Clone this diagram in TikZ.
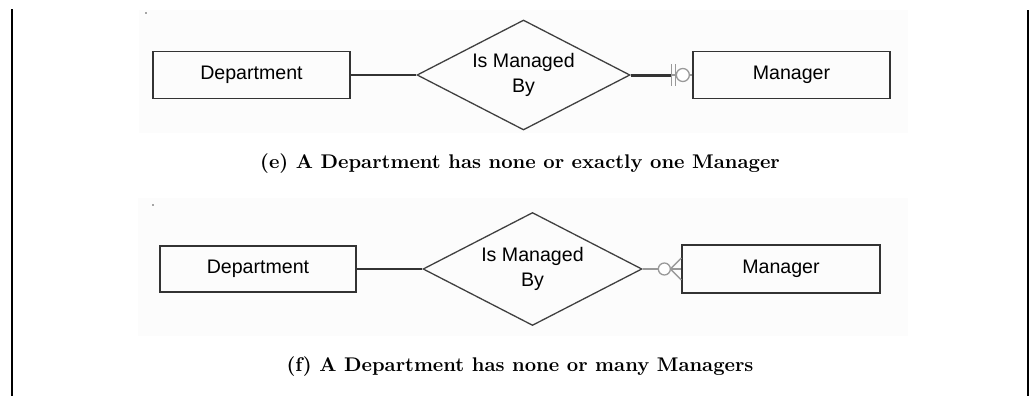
\documentclass[tikz,border=0pt]{standalone}
\usepackage{fontspec}
\newfontfamily\ersans{Liberation Sans}
\usetikzlibrary{shapes.geometric,calc}

\begin{document}
\begin{tikzpicture}[x=0.5pt, y=-0.5pt,
  panel/.style={fill=black!1.2, draw=none},
  entity/.style={draw=black!80, line width=0.65pt, minimum width=98.5pt, minimum height=23.5pt, inner sep=0pt, font=\ersans\fontsize{9.8}{11}\selectfont},
  rel/.style={draw=black!75, shape=diamond, line width=0.65pt, inner sep=0pt, aspect=1.94, minimum width=106.5pt, minimum height=55pt, align=center, font=\ersans\fontsize{9.8}{12.5}\selectfont},
  conn/.style={draw=black!80, line width=0.65pt},
  card/.style={draw=black!40, line width=0.65pt},
  caption/.style={font=\bfseries\fontsize{9.9}{11}\selectfont},
]
\useasboundingbox (0,0) rectangle (1030,396);
\fill[panel] (139,10) rectangle (908,133);
\fill[panel] (138,198) rectangle (908,336);
\fill[black!70] (146,13) circle[radius=0.8] (153,205) circle[radius=0.8];
\draw[line width=1pt] (12,9) -- (12,396);
\draw[line width=1pt] (1028,10) -- (1028,396);

\node[entity] (dep1) at (251.5,75) {Department};
\node[rel] (rel1) at (523.5,75) {Is Managed\\By};
\node[entity] (mgr1) at (791.5,75) {Manager};
\node[caption] (cap1) at (520,164) {(e) A Department has none or exactly one Manager};
\draw[conn] (dep1.east) -- (rel1.west);
\draw[conn, line width=1.5pt] (rel1.east) -- ($(mgr1.west)+(-21,0)$) coordinate (bar1);
\draw[card] (bar1) -- (mgr1.west);
\draw[card] ($(bar1)+(0,-11)$) -- ++(0,22) ($(bar1)+(4,-11)$) -- ++(0,22);
\draw[card, fill=white] ($(mgr1.west)+(-9.5,0)$) circle[radius=6.5];

\node[entity, minimum width=98pt, minimum height=23pt] (dep2) at (258,269) {Department};
\node[rel, minimum width=109.5pt, minimum height=56.5pt] (rel2) at (532.5,269) {Is Managed\\By};
\node[entity, minimum width=99pt, minimum height=24pt] (mgr2) at (781,269) {Manager};
\node[caption] (cap2) at (520,367) {(f) A Department has none or many Managers};
\draw[conn] (dep2.east) -- (rel2.west);
\draw[card] (rel2.east) -- (mgr2.west);
\coordinate (foot2) at ($(mgr2.west)+(-11,0)$);
\draw[card] (foot2) -- ($(mgr2.west)+(0,-11)$) (foot2) -- ($(mgr2.west)+(0,11)$);
\draw[card, fill=white] ($(mgr2.west)+(-17,0)$) circle[radius=6];
\end{tikzpicture}
\end{document}
